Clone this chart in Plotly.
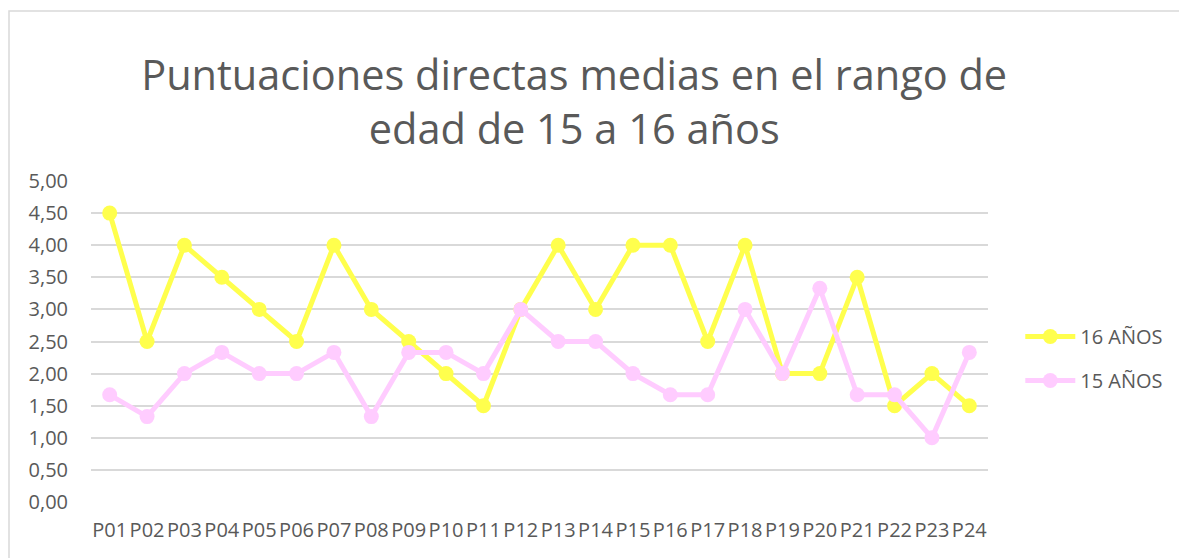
import plotly.graph_objects as go

categories = [f"P{i:02d}" for i in range(1, 25)]
edad_16 = [4.5, 2.5, 4.0, 3.5, 3.0, 2.5, 4.0, 3.0, 2.5, 2.0, 1.5, 3.0,
           4.0, 3.0, 4.0, 4.0, 2.5, 4.0, 2.0, 2.0, 3.5, 1.5, 2.0, 1.5]
edad_15 = [1.67, 1.33, 2.0, 2.33, 2.0, 2.0, 2.33, 1.33, 2.33, 2.33, 2.0, 3.0,
           2.5, 2.5, 2.0, 1.67, 1.67, 3.0, 2.0, 3.33, 1.67, 1.67, 1.0, 2.33]
y_ticks = [0, 0.5, 1, 1.5, 2, 2.5, 3, 3.5, 4, 4.5, 5]
y_labels = [f"{v:.2f}".replace(".", ",") for v in y_ticks]

YELLOW = "#FFFF4D"
PINK = "#FFCCFF"
FONT = "Open Sans, Noto Sans, sans-serif"
GREY = "#595959"

fig = go.Figure()
fig.add_trace(go.Scatter(x=categories, y=edad_16, name="16 AÑOS", mode="lines+markers",
                         legendgroup="a",
                         line=dict(color=YELLOW, width=5),
                         marker=dict(color=YELLOW, size=15)))
fig.add_trace(go.Scatter(x=categories, y=edad_15, name="15 AÑOS", mode="lines+markers",
                         legendgroup="b",
                         line=dict(color=PINK, width=5),
                         marker=dict(color=PINK, size=15)))

W, H = 1187, 558
L, T, PW, PH = 83, 173, 897, 321
fig.update_layout(
    width=W, height=H,
    margin=dict(l=L, r=W - L - PW, t=T, b=H - T - PH, autoexpand=False),
    paper_bgcolor="white", plot_bgcolor="white",
    font=dict(family=FONT, color=GREY, size=20),
    title=dict(text="Puntuaciones directas medias en el rango de<br>edad de 15 a 16 años",
               x=0.477, xref="container", xanchor="center",
               y=1 - 82 / H, yref="container", yanchor="top",
               font=dict(family=FONT, size=41.5, color=GREY)),
    showlegend=True,
    legend=dict(x=1.036, xanchor="left", y=0.447, yanchor="middle",
                font=dict(family=FONT, size=20, color=GREY),
                tracegroupgap=15, itemwidth=50, bgcolor="rgba(0,0,0,0)"),
    xaxis=dict(type="category", range=[-0.5, len(categories) - 0.5],
               showgrid=False, zeroline=False, showline=False,
               ticks="", tickangle=0, automargin=False,
               tickfont=dict(size=20, color=GREY), ticklabelstandoff=14),
    yaxis=dict(range=[0, 5], tickvals=y_ticks, ticktext=y_labels, showgrid=True,
               gridcolor="#D9D9D9", gridwidth=1.5, zeroline=False, showline=False,
               ticks="", automargin=False,
               tickfont=dict(size=20, color=GREY), ticklabelstandoff=22),
    shapes=[dict(type="rect", xref="paper", yref="paper",
                 x0=(1 - L) / PW, x1=(W + 20 - L) / PW,
                 y0=-(H + 20 - (T + PH)) / PH, y1=(T + PH - 3) / PH,
                 line=dict(color="#D9D9D9", width=1.5), layer="below")],
)
fig.write_html("out.html")
